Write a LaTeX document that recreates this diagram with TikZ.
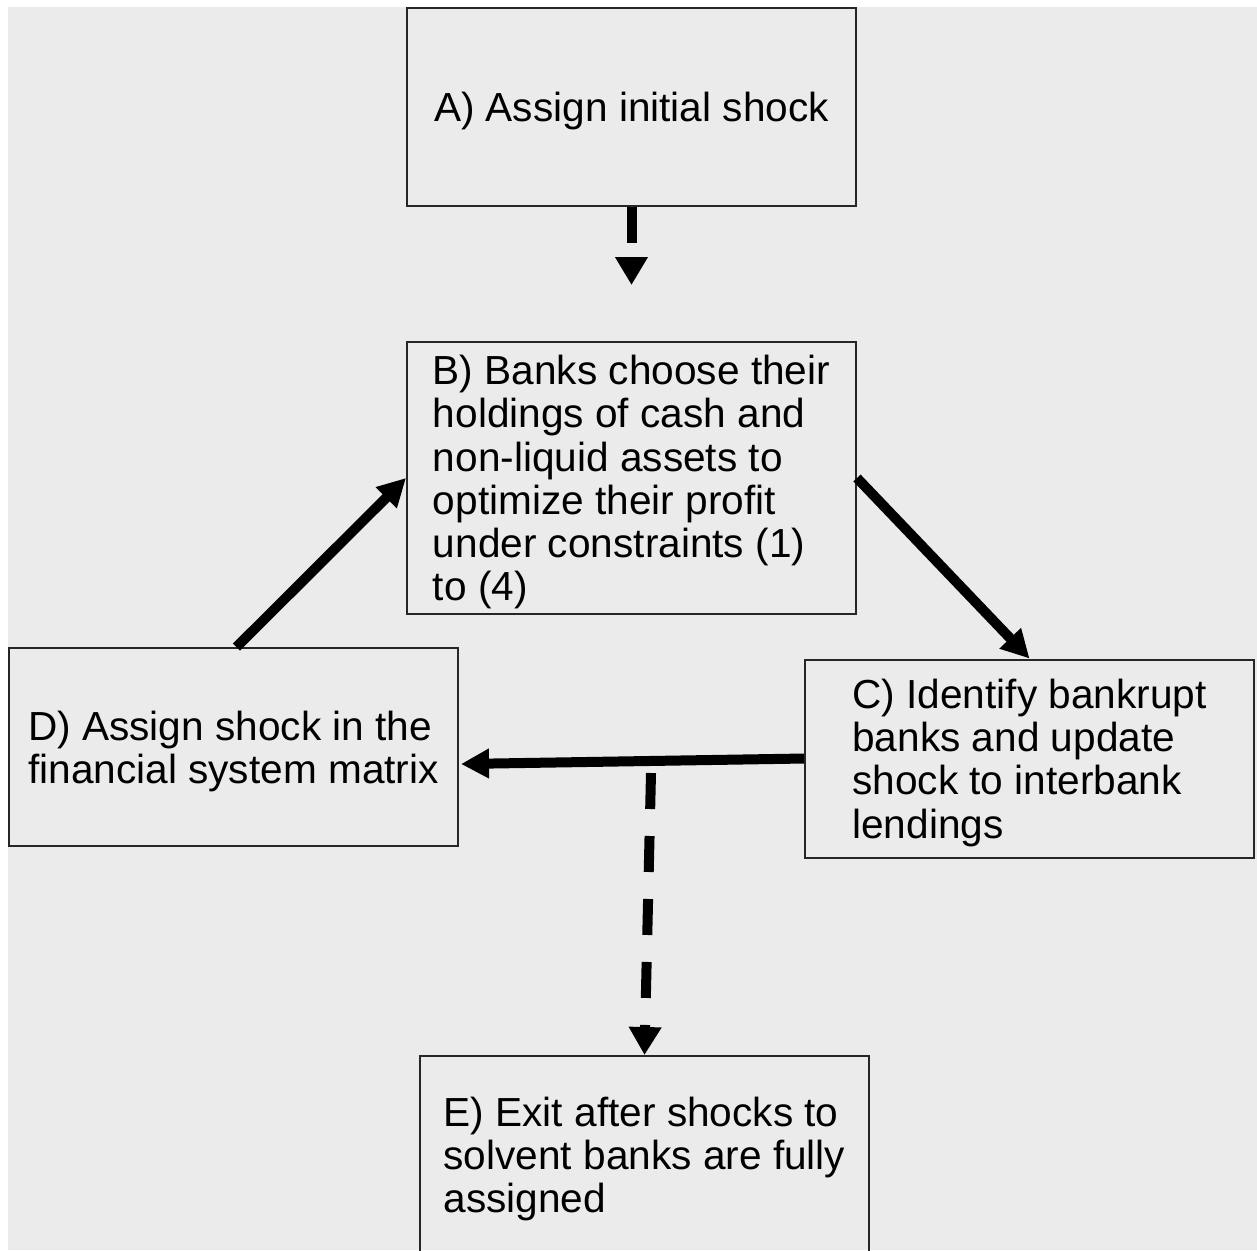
\documentclass[tikz,border=0pt]{standalone}
\usepackage{fontspec}
\setmainfont{Liberation Sans}
\usetikzlibrary{arrows.meta}
\definecolor{bggray}{HTML}{EBEBEB}
\newcommand\boxtopstrut{\rule{0pt}{18.9pt}}
\begin{document}
\begin{tikzpicture}[x=0.5pt,y=-0.5pt,
  box/.style={draw=black!85,line width=1pt,rectangle,minimum width=224.5pt,minimum height=99pt,
    inner sep=0pt,align=left,font=\fontsize{20.3pt}{21.6pt}\selectfont},
  solidarrow/.style={line width=5pt,-{Triangle[length=14pt,width=14pt]}},
  dasharrow/.style={line width=5pt,dash pattern=on 18pt off 13.5pt,-{Triangle[length=14pt,width=15.5pt]}}]
\useasboundingbox (0,0) rectangle (1257,1250);
\fill[bggray] (8,7) rectangle (1257,1250);

\node[box] (A) at (631.5,107) {\boxtopstrut A) Assign initial shock};
\node[box,minimum height=136pt] (B) at (631.5,478) {\boxtopstrut B) Banks choose their\\holdings of cash and\\non-liquid assets to\\optimize their profit\\under constraints (1)\\to (4)};
\node[box] (C) at (1029.5,758.5) {\boxtopstrut C) Identify bankrupt\\banks and update\\shock to interbank\\lendings};
\node[box] (D) at (233.5,747) {\boxtopstrut D) Assign shock in the\\financial system matrix};
\node[box] (E) at (644.5,1155) {\boxtopstrut E) Exit after shocks to\\solvent banks are fully\\assigned};

\coordinate (aEnd) at (631.5,285);
\coordinate (eStart) at (651,773);

\draw[dasharrow] (A.south) -- (aEnd);
\draw[solidarrow] (B.east) -- (C.north);
\draw[solidarrow] ([xshift=1.5pt]D.north) -- (B.west);
\draw[solidarrow] (C.west) -- ([yshift=-8.5pt,xshift=1pt]D.east);
\draw[dasharrow] (eStart) -- (E.north);
\end{tikzpicture}
\end{document}
